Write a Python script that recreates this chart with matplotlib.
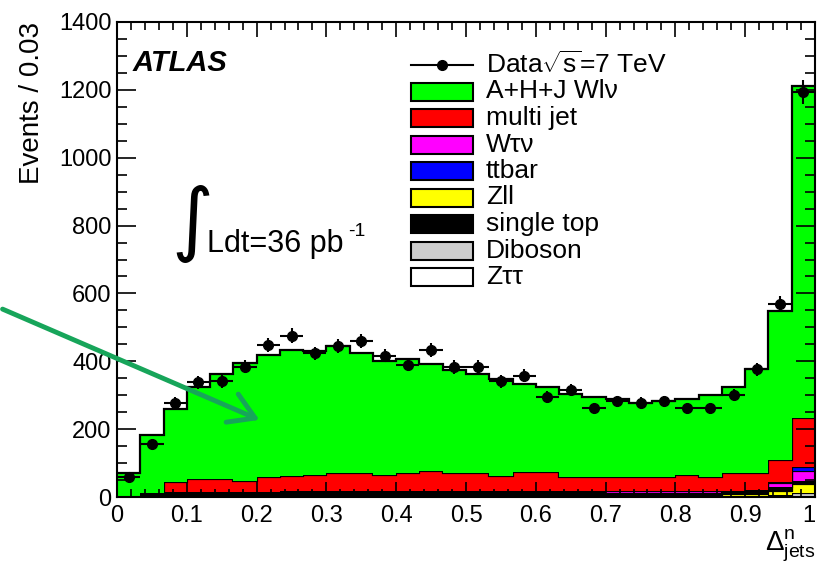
import numpy as np
import matplotlib
matplotlib.use("Agg")
import matplotlib.pyplot as plt
from matplotlib.patches import Rectangle
from matplotlib.lines import Line2D
from matplotlib.ticker import MultipleLocator, FuncFormatter

plt.rcParams['font.family'] = ['Liberation Sans', 'DejaVu Sans']
plt.rcParams['mathtext.fontset'] = 'custom'
plt.rcParams['mathtext.rm'] = 'Liberation Sans'
plt.rcParams['mathtext.it'] = 'Liberation Sans:italic'

# 30 bins between 0 and 1
n_bins = 30
data = [58, 156, 277, 338, 341, 384, 448, 476, 423, 445, 460, 417, 390, 433, 383,
        384, 341, 358, 295, 314, 262, 282, 277, 282, 262, 262, 302, 376, 568, 1194]

# stacked MC, bottom to top
ztautau = [0, 0, 0, 1, 1, 1, 1, 1, 1, 1, 1, 1, 1, 1, 1,
           1, 1, 1, 1, 1, 1, 1, 1, 1, 1, 1, 1, 1, 2, 3]
diboson = [0, 1, 1, 1, 1, 2, 2, 2, 2, 2, 2, 2, 2, 2, 2,
           2, 2, 2, 2, 2, 2, 2, 2, 2, 2, 2, 2, 2, 4, 10]
zll = [0, 0, 0, 0, 0, 0, 0, 4, 4, 4, 4, 4, 4, 4, 4,
       4, 4, 4, 4, 4, 4, 0, 0, 0, 0, 0, 5, 6, 12, 25]
singletop = [3, 12, 12, 12, 12, 12, 12, 10, 10, 10, 10, 10, 10, 10, 10,
             10, 10, 10, 10, 10, 10, 10, 10, 10, 10, 10, 8, 8, 12, 8]
wtaunu = [0, 0, 0, 0, 0, 0, 0, 0, 0, 0, 0, 0, 0, 0, 0,
          0, 0, 0, 0, 0, 0, 4, 4, 4, 4, 4, 0, 4, 12, 32]
ttbar = [0, 0, 1, 1, 1, 1, 1, 1, 1, 1, 1, 1, 1, 1, 1,
         1, 1, 1, 1, 1, 1, 1, 1, 1, 1, 1, 1, 1, 2, 10]
multijet = [0, 0, 29, 37, 37, 31, 42, 45, 47, 54, 52, 47, 52, 59, 54,
            54, 45, 57, 57, 42, 42, 42, 42, 42, 47, 42, 53, 48, 65, 145]
wlnu = [67, 170, 216, 273, 312, 349, 362, 369, 365, 373, 355, 337, 338, 314, 301,
        291, 285, 259, 249, 244, 235, 230, 217, 222, 225, 242, 254, 308, 439, 979]

colors = {
    "A+H+J Wl\u03bd": "#00ff00",
    "multi jet": "#ff0000",
    "W\u03c4\u03bd": "#ff00ff",
    "ttbar": "#0000ff",
    "Zll": "#ffff00",
    "single top": "black",
    "Diboson": "#cccccc",
    "Z\u03c4\u03c4": "white",
}

# drawing order of the stack (bottom first)
stack = [
    ("Z\u03c4\u03c4", ztautau),
    ("Diboson", diboson),
    ("Zll", zll),
    ("single top", singletop),
    ("W\u03c4\u03bd", wtaunu),
    ("ttbar", ttbar),
    ("multi jet", multijet),
    ("A+H+J Wl\u03bd", wlnu),
]
legend_order = ["A+H+J Wl\u03bd", "multi jet", "W\u03c4\u03bd", "ttbar", "Zll",
                "single top", "Diboson", "Z\u03c4\u03c4"]

W, H = 817, 572
fig = plt.figure(figsize=(W / 100, H / 100), dpi=100)
ax = fig.add_axes([117 / W, 75 / H, 698 / W, 475 / H])

edges = np.linspace(0, 1, n_bins + 1)
centers = 0.5 * (edges[1:] + edges[:-1])
width = edges[1] - edges[0]

cum = np.zeros(n_bins)
for name, vals in stack:
    top = cum + np.array(vals)
    ax.stairs(top, edges, baseline=cum, fill=True, color=colors[name], lw=0)
    ax.stairs(top, edges, baseline=None, color="black", lw=1.6)
    cum = top

d = np.array(data)
ax.errorbar(centers, d, yerr=np.sqrt(d), xerr=width / 2, fmt="o", color="black",
            ms=7, elinewidth=1.5, capsize=0, zorder=5)

ax.set_xlim(0, 1)
ax.set_ylim(0, 1400)
ax.xaxis.set_major_locator(MultipleLocator(0.1))
ax.xaxis.set_minor_locator(MultipleLocator(0.02))
ax.yaxis.set_major_locator(MultipleLocator(200))
ax.yaxis.set_minor_locator(MultipleLocator(50))
# last label "1" is drawn by hand so it stays inside the picture
ax.xaxis.set_major_formatter(FuncFormatter(lambda v, p: "" if v > 0.99 else f"{v:g}"))
ax.tick_params(which="both", direction="in", top=True, right=True, width=1.2,
               labelsize=17, colors="black")
ax.tick_params(axis="x", which="major", length=11, pad=6)
ax.tick_params(axis="x", which="minor", length=5.5)
ax.tick_params(axis="y", which="major", length=14, pad=4)
ax.tick_params(axis="y", which="minor", length=7.5)
for s in ax.spines.values():
    s.set_linewidth(1.5)
ax.text(1.0, -8 / 475, "1", transform=ax.transAxes, fontsize=17, ha="right", va="top")

ax.set_ylabel("Events / 0.03", loc="top", fontsize=20, labelpad=10)
ax.set_xlabel(r"$\Delta^{\rm n}_{\rm jets}$", loc="right", fontsize=20, labelpad=0)

# labels inside the frame
ax.text(133 / W, 1 - 71 / H, "ATLAS", transform=fig.transFigure, fontsize=21,
        fontweight="bold", fontstyle="italic", va="baseline")
ax.text(171 / W, 1 - 224 / H, "\u222b", transform=fig.transFigure, fontsize=58,
        family="DejaVu Sans", va="center", ha="left")
ax.text(207 / W, 1 - 252 / H, "Ldt=36 pb", transform=fig.transFigure,
        fontsize=22, va="baseline")
ax.text(348 / W, 1 - 236 / H, "-1", transform=fig.transFigure,
        fontsize=14, va="baseline")

# legend drawn by hand, ROOT style
legend_items = [("Data$\\sqrt{\\rm s}$=7 TeV", None)] + [(n, colors[n]) for n in legend_order]
for i, (name, col) in enumerate(legend_items):
    yc = 65 + 26.5 * i
    if col is None:
        fig.add_artist(Line2D([411 / W, 473 / W], [1 - yc / H] * 2, color="black",
                              lw=1.5, transform=fig.transFigure))
        fig.add_artist(Line2D([442 / W], [1 - yc / H], marker="o", ms=7, color="black",
                              transform=fig.transFigure))
    else:
        fig.add_artist(Rectangle((411 / W, 1 - (yc + 9) / H), 62 / W, 18 / H,
                                 facecolor=col, edgecolor="black", lw=1.5,
                                 transform=fig.transFigure))
    fig.text(486 / W, 1 - yc / H, name, fontsize=19, va="center", ha="left")

# green arrow pointing into the W distribution
ax.annotate("", xy=(262, H - 421), xycoords="figure pixels",
            xytext=(0, H - 308), textcoords="figure pixels",
            arrowprops=dict(arrowstyle="->,head_length=0.9,head_width=0.55",
                            color="#17a55a", lw=3.5, mutation_scale=20),
            annotation_clip=False)

fig.savefig("out.png", dpi=100)
